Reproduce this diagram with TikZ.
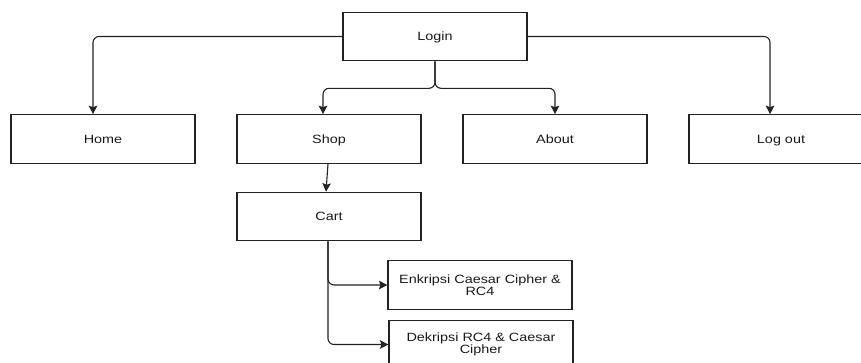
\documentclass[tikz,border=0pt]{standalone}
\usepackage{fontspec}
\setmainfont{Liberation Sans}[FakeStretch=1.2]
\usetikzlibrary{arrows.meta}
\definecolor{edge}{HTML}{222222}
\begin{document}
\begin{tikzpicture}[x=1pt,y=-1pt,
  box/.style={draw=edge,line width=1.1pt,minimum width=184pt,minimum height=48.5pt,
    inner sep=0pt,font=\fontsize{12}{12}\selectfont,text=black!90,align=center,text width=180pt},
  one/.style={box,text height=11.6pt,text depth=3pt},
  link/.style={draw=edge,line width=1.1pt,rounded corners=6pt,
    -{Stealth[length=8.5pt,width=8.5pt,inset=1.5pt]}}]
\useasboundingbox (0,0) rectangle (861,362);
\node[one] (login) at (435,36.5) {Login};
\node[one] (home) at (103,139) {Home};
\node[one] (shop) at (329,139) {Shop};
\node[one] (about) at (555,139) {About};
\node[one] (logout) at (781,139) {Log out};
\node[one] (cart) at (329,216.5) {Cart};
\node[box] (enk) at (480,285) {Enkripsi Caesar Cipher \&\\RC4};
\node[box] (dek) at (481,344.5) {Dekripsi RC4 \& Caesar\\Cipher};
\draw[link] (login.west) -| ([xshift=-10pt]home.north);
\draw[link] (login.east) -| ([xshift=-11pt]logout.north);
\draw[link] (login.south) -- ++(0,27) -| ([xshift=-6pt]shop.north);
\draw[link] (login.south) -- ++(0,27) -| (about.north);
\draw[link] ([xshift=-1pt]shop.south) -- ([xshift=-3pt]cart.north);
\draw[link] ([xshift=-1pt]cart.south) |- (enk.west);
\draw[link] ([xshift=-1pt]cart.south) |- (dek.west);
\end{tikzpicture}
\end{document}
